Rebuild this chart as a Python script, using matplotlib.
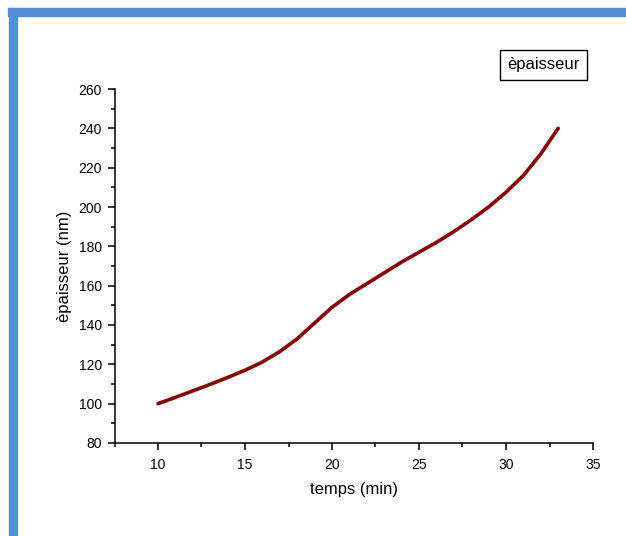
import matplotlib
matplotlib.use("Agg")
import matplotlib.pyplot as plt
from matplotlib.patches import Rectangle
from matplotlib.ticker import MultipleLocator

# values
temps = [10, 11, 12, 13, 14, 15, 16, 17, 18, 19, 20, 21,
         22, 23, 24, 25, 26, 27, 28, 29, 30, 31, 32, 33]
epaisseur = [100, 103.2, 106.5, 109.8, 113.3, 117, 121.2, 126.5, 133, 141, 149, 155.5,
             161, 166.5, 172, 177, 182, 187.5, 193.5, 200, 207.5, 216, 227, 240]
legend_label = "èpaisseur"

plt.rcParams['font.family'] = ['Liberation Sans', 'DejaVu Sans']

W, H = 626, 536
fig = plt.figure(figsize=(W / 100, H / 100), dpi=100)

# blue frame along top and left edge
blue = "#558ed5"
fig.patches.append(Rectangle((8 / W, 1 - 16 / H), 1, 8 / H, transform=fig.transFigure,
                             color=blue, zorder=0))
fig.patches.append(Rectangle((9 / W, 0), 8 / W, 1 - 8 / H, transform=fig.transFigure,
                             color=blue, zorder=0))

ax = fig.add_axes([114.5 / W, 1 - 443 / H, (593 - 114.5) / W, (443 - 89) / H])
ax.plot(temps, epaisseur, color="#820000", lw=2.6, solid_capstyle="round",
        solid_joinstyle="round")

ax.set_xlim(7.5, 35)
ax.set_ylim(80, 260)
ax.xaxis.set_major_locator(MultipleLocator(5))
ax.xaxis.set_minor_locator(MultipleLocator(2.5))
ax.yaxis.set_major_locator(MultipleLocator(20))
ax.yaxis.set_minor_locator(MultipleLocator(10))
ax.spines["top"].set_visible(False)
ax.spines["right"].set_visible(False)
for s in ("left", "bottom"):
    ax.spines[s].set_linewidth(1.1)
ax.tick_params(which="major", direction="out", length=5, width=1.1, labelsize=10)
ax.tick_params(axis="x", which="major", pad=6)
ax.tick_params(axis="y", which="major", pad=4)
ax.tick_params(which="minor", direction="out", length=3, width=1.1)

ax.set_xlabel("temps (min)", fontsize=12, labelpad=7)
ax.set_ylabel("èpaisseur (nm)", fontsize=12, labelpad=5)

fig.text(543.5 / W, 1 - 65 / H, legend_label, fontsize=12, ha="center", va="center",
         bbox=dict(boxstyle="square,pad=0.45", fc="white", ec="black", lw=1))

fig.savefig("out.png", dpi=100)
